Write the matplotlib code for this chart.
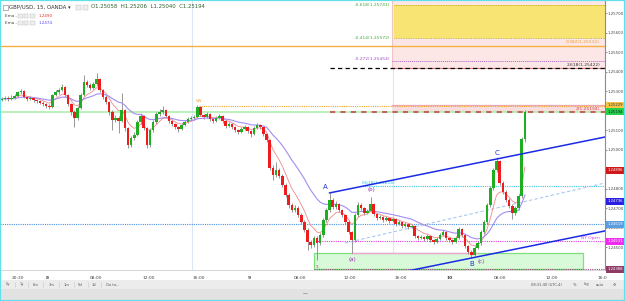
import matplotlib
matplotlib.use("Agg")
import matplotlib.pyplot as plt
from matplotlib.patches import Rectangle
import matplotlib.transforms as mtrans
import numpy as np
import pandas as pd

# ---------------- data (GBP/USD 15m, OANDA) ----------------
opens = [
    1.25256, 1.25261, 1.25266, 1.25261, 1.25266, 1.25276, 1.25297, 1.25302, 1.25271, 1.25261,
    1.25266, 1.25256, 1.25250, 1.25240, 1.25235, 1.25225, 1.25220, 1.25281, 1.25297, 1.25307,
    1.25322, 1.25281, 1.25235, 1.25194, 1.25163, 1.25215, 1.25281, 1.25348, 1.25333, 1.25317,
    1.25338, 1.25363, 1.25307, 1.25271, 1.25245, 1.25194, 1.25153, 1.25163, 1.25148, 1.25204,
    1.25112, 1.25025, 1.25061, 1.25076, 1.25143, 1.25173, 1.25112, 1.25025, 1.25102, 1.25143,
    1.25184, 1.25194, 1.25204, 1.25173, 1.25148, 1.25132, 1.25117, 1.25107, 1.25127, 1.25143,
    1.25158, 1.25163, 1.25168, 1.25220, 1.25179, 1.25168, 1.25184, 1.25158, 1.25148, 1.25163,
    1.25173, 1.25148, 1.25122, 1.25132, 1.25117, 1.25102, 1.25091, 1.25107, 1.25117, 1.25097,
    1.25081, 1.25112, 1.25127, 1.25117, 1.25081, 1.25050, 1.24907, 1.24871, 1.24896, 1.24866,
    1.24820, 1.24768, 1.24717, 1.24691, 1.24702, 1.24666, 1.24630, 1.24589, 1.24527, 1.24512,
    1.24548, 1.24522, 1.24563, 1.24640, 1.24691, 1.24743, 1.24707, 1.24722, 1.24691, 1.24666,
    1.24630, 1.24578, 1.24538, 1.24666, 1.24717, 1.24702, 1.24676, 1.24686, 1.24722, 1.24671,
    1.24650, 1.24656, 1.24640, 1.24650, 1.24635, 1.24645, 1.24619, 1.24630, 1.24609, 1.24619,
    1.24604, 1.24609, 1.24558, 1.24548, 1.24553, 1.24543, 1.24558, 1.24538, 1.24527, 1.24543,
    1.24563, 1.24578, 1.24548, 1.24538, 1.24527, 1.24548, 1.24594, 1.24563, 1.24507, 1.24476,
    1.24461, 1.24496, 1.24522, 1.24578, 1.24630, 1.24717, 1.24804, 1.24896, 1.24943, 1.24830,
    1.24784, 1.24743, 1.24712, 1.24676, 1.24702, 1.24763, 1.25058]

closes = [
    1.25261, 1.25266, 1.25261, 1.25266, 1.25276, 1.25297, 1.25302, 1.25271, 1.25261, 1.25266,
    1.25256, 1.25250, 1.25240, 1.25235, 1.25225, 1.25220, 1.25281, 1.25297, 1.25307, 1.25322,
    1.25281, 1.25235, 1.25194, 1.25163, 1.25215, 1.25281, 1.25348, 1.25333, 1.25317, 1.25338,
    1.25363, 1.25307, 1.25271, 1.25245, 1.25194, 1.25153, 1.25163, 1.25148, 1.25204, 1.25112,
    1.25025, 1.25061, 1.25076, 1.25143, 1.25173, 1.25112, 1.25025, 1.25102, 1.25143, 1.25184,
    1.25194, 1.25204, 1.25173, 1.25148, 1.25132, 1.25117, 1.25107, 1.25127, 1.25143, 1.25158,
    1.25163, 1.25168, 1.25220, 1.25179, 1.25168, 1.25184, 1.25158, 1.25148, 1.25163, 1.25173,
    1.25148, 1.25122, 1.25132, 1.25117, 1.25102, 1.25091, 1.25107, 1.25117, 1.25097, 1.25081,
    1.25112, 1.25127, 1.25117, 1.25081, 1.25050, 1.24907, 1.24871, 1.24896, 1.24866, 1.24820,
    1.24768, 1.24717, 1.24691, 1.24702, 1.24666, 1.24630, 1.24589, 1.24527, 1.24512, 1.24548,
    1.24522, 1.24563, 1.24640, 1.24691, 1.24743, 1.24707, 1.24722, 1.24691, 1.24666, 1.24630,
    1.24578, 1.24538, 1.24666, 1.24717, 1.24702, 1.24676, 1.24686, 1.24722, 1.24671, 1.24650,
    1.24656, 1.24640, 1.24650, 1.24635, 1.24645, 1.24619, 1.24630, 1.24609, 1.24619, 1.24604,
    1.24609, 1.24558, 1.24548, 1.24553, 1.24543, 1.24558, 1.24538, 1.24527, 1.24543, 1.24563,
    1.24578, 1.24548, 1.24538, 1.24527, 1.24548, 1.24594, 1.24563, 1.24507, 1.24476, 1.24461,
    1.24496, 1.24522, 1.24578, 1.24630, 1.24717, 1.24804, 1.24896, 1.24943, 1.24830, 1.24784,
    1.24743, 1.24712, 1.24676, 1.24702, 1.24763, 1.25058, 1.25194]

highs = [
    1.25271, 1.25276, 1.25276, 1.25281, 1.25286, 1.25302, 1.25312, 1.25307, 1.25276, 1.25276,
    1.25271, 1.25261, 1.25256, 1.25250, 1.25240, 1.25235, 1.25286, 1.25307, 1.25317, 1.25338,
    1.25327, 1.25286, 1.25240, 1.25204, 1.25225, 1.25292, 1.25384, 1.25358, 1.25343, 1.25348,
    1.25394, 1.25368, 1.25312, 1.25281, 1.25250, 1.25204, 1.25179, 1.25173, 1.25292, 1.25209,
    1.25117, 1.25071, 1.25091, 1.25153, 1.25189, 1.25179, 1.25117, 1.25112, 1.25153, 1.25194,
    1.25209, 1.25225, 1.25209, 1.25179, 1.25158, 1.25138, 1.25122, 1.25138, 1.25153, 1.25168,
    1.25173, 1.25179, 1.25230, 1.25225, 1.25184, 1.25194, 1.25189, 1.25163, 1.25173, 1.25184,
    1.25179, 1.25153, 1.25143, 1.25138, 1.25122, 1.25107, 1.25117, 1.25127, 1.25122, 1.25102,
    1.25122, 1.25138, 1.25132, 1.25122, 1.25086, 1.25056, 1.24922, 1.24938, 1.24907, 1.24876,
    1.24830, 1.24779, 1.24727, 1.24717, 1.24712, 1.24676, 1.24640, 1.24599, 1.24538, 1.24558,
    1.24558, 1.24573, 1.24650, 1.24702, 1.24779, 1.24753, 1.24738, 1.24727, 1.24697, 1.24671,
    1.24640, 1.24584, 1.24676, 1.24732, 1.24727, 1.24707, 1.24697, 1.24758, 1.24727, 1.24676,
    1.24666, 1.24661, 1.24661, 1.24656, 1.24656, 1.24650, 1.24640, 1.24635, 1.24630, 1.24625,
    1.24619, 1.24614, 1.24563, 1.24563, 1.24558, 1.24568, 1.24563, 1.24543, 1.24553, 1.24573,
    1.24589, 1.24584, 1.24553, 1.24543, 1.24558, 1.24604, 1.24599, 1.24568, 1.24512, 1.24486,
    1.24507, 1.24532, 1.24589, 1.24640, 1.24727, 1.24815, 1.24907, 1.24963, 1.24948, 1.24840,
    1.24794, 1.24753, 1.24722, 1.24712, 1.24773, 1.25068, 1.25206]

lows = [
    1.25250, 1.25256, 1.25250, 1.25256, 1.25261, 1.25271, 1.25286, 1.25266, 1.25250, 1.25256,
    1.25245, 1.25240, 1.25235, 1.25225, 1.25215, 1.25209, 1.25215, 1.25276, 1.25286, 1.25302,
    1.25271, 1.25225, 1.25179, 1.25117, 1.25153, 1.25209, 1.25276, 1.25322, 1.25307, 1.25312,
    1.25327, 1.25297, 1.25261, 1.25235, 1.25179, 1.25102, 1.25143, 1.25086, 1.25143, 1.25097,
    1.25009, 1.25015, 1.25050, 1.25071, 1.25132, 1.25102, 1.25009, 1.25015, 1.25091, 1.25132,
    1.25173, 1.25184, 1.25163, 1.25138, 1.25122, 1.25107, 1.25091, 1.25102, 1.25122, 1.25138,
    1.25148, 1.25153, 1.25163, 1.25173, 1.25158, 1.25163, 1.25148, 1.25138, 1.25143, 1.25158,
    1.25138, 1.25112, 1.25117, 1.25107, 1.25091, 1.25081, 1.25086, 1.25102, 1.25086, 1.25066,
    1.25076, 1.25107, 1.25107, 1.25071, 1.25040, 1.24896, 1.24845, 1.24861, 1.24856, 1.24810,
    1.24758, 1.24702, 1.24681, 1.24681, 1.24656, 1.24619, 1.24578, 1.24486, 1.24496, 1.24502,
    1.24435, 1.24512, 1.24553, 1.24630, 1.24681, 1.24697, 1.24697, 1.24681, 1.24656, 1.24619,
    1.24568, 1.24471, 1.24527, 1.24656, 1.24691, 1.24666, 1.24671, 1.24681, 1.24661, 1.24640,
    1.24645, 1.24630, 1.24635, 1.24625, 1.24630, 1.24609, 1.24614, 1.24599, 1.24604, 1.24594,
    1.24599, 1.24548, 1.24538, 1.24543, 1.24532, 1.24538, 1.24527, 1.24517, 1.24522, 1.24538,
    1.24558, 1.24538, 1.24527, 1.24517, 1.24522, 1.24543, 1.24553, 1.24496, 1.24466, 1.24445,
    1.24456, 1.24491, 1.24512, 1.24568, 1.24619, 1.24707, 1.24794, 1.24886, 1.24820, 1.24774,
    1.24732, 1.24702, 1.24645, 1.24666, 1.24691, 1.24753, 1.25040]

ema_fast_period = 7
ema_slow_period = 21

time_tick_pos = [5, 14.5, 30, 46.5, 62.5, 78.5, 94.5, 110.5, 126.5, 142, 158, 174.5, 190.5]
time_tick_labels = ["20:30", "8", "08:00", "12:00", "16:00", "9", "08:00", "12:00",
                    "16:00", "10", "08:00", "12:00", "16:0"]
day_labels = ["8", "9", "10"]

price_ticks = [1.257, 1.256, 1.255, 1.254, 1.253, 1.251, 1.250, 1.248, 1.247, 1.246, 1.245]

fib_neg618 = 1.25741
fib_neg414 = 1.25572
fib_382 = 1.25532
fib_neg272 = 1.25454
fib_2618 = 1.25422
fib_2 = 1.25194
fib_0618 = 1.24814
vw_level = 1.25229
last_price = 1.25194
support_level = 1.24619
ny_open_level = 1.24531
box_top = 1.24471
box_bottom = 1.24388

badge_prices = [1.25229, 1.25194, 1.24896, 1.24736, 1.24619, 1.24531, 1.24388]
badge_colors = ["#f6c444", "#22d04a", "#d01818", "#2a1fe0", "#5b9de0", "#ee2cee", "#8e3a66"]
badge_text_colors = ["#333333", "#1a1a1a", "white", "white", "white", "white", "white"]

wave_names = ["A", "(a)", "(b)", "B", "(c)", "C"]

# ---------------- layout helpers (pixel -> data) ----------------
W, H = 625, 301
PX_PER_BAR = 3.15
PX_PER_UNIT = 19500.0


def bx(px):
    return (px - 2) / PX_PER_BAR


def py(px):
    return 1.25194 - (px - 112) / PX_PER_UNIT


fig = plt.figure(figsize=(W / 100, H / 100), dpi=100)
fig.patch.set_facecolor("white")
ax = fig.add_axes([0, 31 / H, 605 / W, 270 / H])
ax.set_facecolor("white")
ax.set_xlim(bx(0), bx(605))
ax.set_ylim(py(270), py(0))

x_right = bx(605)

# vertical session lines
for vx in (192, 393):
    ax.axvline(bx(vx), color="#d9e6f6", lw=0.8, zorder=1)

# fib zones
ax.add_patch(Rectangle((bx(392), fib_2618), x_right - bx(392), py(0) - fib_2618,
                       facecolor="#fce6e6", edgecolor="none", zorder=1))
ax.add_patch(Rectangle((bx(394), fib_neg414), x_right - bx(394), fib_neg618 - fib_neg414,
                       facecolor="#f8e472", edgecolor="none", zorder=1.2))
ax.plot([bx(392), bx(392)], [fib_2618, py(0)], color="#f2c4c4", lw=0.8, zorder=1.3)
for lv in (fib_neg618, fib_neg414):
    ax.plot([bx(394), x_right], [lv, lv], color="#b9a800", lw=0.6, ls=(0, (1, 1)), zorder=1.5)
ax.axhline(fib_382, color="#f5b041", lw=1.0, zorder=1.5)
ax.plot([bx(392), x_right], [fib_neg272, fib_neg272], color="#b060d0", lw=0.7,
        ls=(0, (1, 1)), zorder=1.5)
ax.plot([bx(392), x_right], [fib_2618, fib_2618], color="#e47a7a", lw=0.8, zorder=1.5)
ax.plot([bx(330), x_right], [fib_2618, fib_2618], color="black", lw=0.9,
        ls=(0, (3.5, 2.5)), zorder=1.6)

# lower fib zone
ax.add_patch(Rectangle((bx(392), fib_2), x_right - bx(392), vw_level - fib_2,
                       facecolor="#f9dede", edgecolor="none", zorder=1))
ax.plot([bx(392), x_right], [vw_level, vw_level], color="#eeaaaa", lw=0.9, zorder=1.5)
ax.plot([bx(199), x_right], [vw_level - 0.00002, vw_level - 0.00002], color="#f0a428",
        lw=0.8, ls=(0, (1, 1)), zorder=1.6)
ax.axhline(last_price, color="#a8eea8", lw=1.1, zorder=1.4)
ax.plot([bx(330), x_right], [fib_2, fib_2], color="#c0504d", lw=1.5,
        ls=(0, (2.5, 2.5)), zorder=1.6, alpha=0.85)

# other horizontal levels
ax.plot([bx(360), x_right], [fib_0618, fib_0618], color="#3cc8e0", lw=0.8,
        ls=(0, (1, 1)), zorder=1.5)
ax.axhline(support_level, color="#4a8fe0", lw=0.8, ls=(0, (1, 1)), zorder=1.5)
ax.plot([bx(313), x_right], [ny_open_level, ny_open_level], color="#e33ae3", lw=0.8,
        ls=(0, (1, 1)), zorder=1.5)

# green box
ax.add_patch(Rectangle((bx(314), box_bottom), bx(583) - bx(314), box_top - box_bottom,
                       facecolor="#d9fad9", edgecolor="#80e080", lw=0.9, zorder=1.2))
ax.plot([bx(352), bx(477)], [box_top, box_top], color="#f3a6d8", lw=1.0, zorder=1.3)
ax.plot([bx(314), x_right], [box_bottom, box_bottom], color="#9a4a7a", lw=0.8,
        ls=(0, (1, 1)), zorder=1.4)

# ---------------- candles ----------------
o = np.array(opens)
c = np.array(closes)
h = np.array(highs)
l = np.array(lows)
idx = np.arange(len(c))
up = c >= o
col = np.where(up, "#1fae22", "#ee1c1c")
ax.vlines(idx, l, h, color="#7a7a7a", lw=0.55, zorder=3)
body_lo = np.minimum(o, c)
body_h = np.maximum(np.abs(c - o), 0.00002)
ax.bar(idx, body_h, bottom=body_lo, width=0.8, color=col, edgecolor="none", zorder=4)

# EMAs
cs = pd.Series(closes)
ema_fast = cs.ewm(span=ema_fast_period, adjust=False).mean()
ema_slow = cs.ewm(span=ema_slow_period, adjust=False).mean()
ax.plot(idx, ema_fast, color="#f08a8a", lw=0.6, zorder=3.5)
ax.plot(idx, ema_slow, color="#a58cf2", lw=0.8, zorder=3.5)

# channel (ABC)
slope = 0.203 * PX_PER_BAR / PX_PER_UNIT
a_i, b_i = 104, 149
xs_up = np.array([a_i, x_right])
ax.plot(xs_up, highs[a_i] + slope * (xs_up - a_i), color="#1a2ae6", lw=1.1, zorder=5)
xs_lo = np.array([bx(380), x_right])
ax.plot(xs_lo, lows[b_i] + slope * (xs_lo - b_i), color="#1a2ae6", lw=1.1, zorder=5)
# faint diagonal dashed
ax.plot([bx(345), x_right], [py(243), py(183)], color="#a9c8f2", lw=0.8,
        ls=(0, (3, 2)), zorder=2)

# wave labels
wave_pos = [(325, 187), (352, 260), (371, 190), (472, 264), (481, 262), (497, 153)]
for name, (px_, py_) in zip(wave_names, wave_pos):
    is_main = name in ("A", "B", "C")
    ax.text(bx(px_), py(py_), name, color="#2430d8" if is_main else "#9a28b0",
            fontsize=5 if is_main else 4, ha="center", va="center", zorder=6)

# fib / level labels
ax.text(bx(390), py(4.5), "-0.618(1.25741)", color="#43a843", fontsize=3.2, ha="right", va="center")
ax.text(bx(390), py(38), "-0.414(1.25572)", color="#43a843", fontsize=3.2, ha="right", va="center")
ax.text(bx(600), py(42.5), "0.382(1.25532)", color="#f0a030", fontsize=3.2, ha="right", va="center")
ax.text(bx(390), py(59), "-0.272(1.25454)", color="#a050c8", fontsize=3.2, ha="right", va="center")
ax.text(bx(600), py(64.5), "2.618(1.25422)", color="#333333", fontsize=3.2, ha="right", va="center")
ax.text(bx(600), py(108.5), "2(1.25194)", color="#d04848", fontsize=3.2, ha="right", va="center")
ax.text(bx(362), py(183), "0.618(1.24814)", color="#2ec0dc", fontsize=3.2, ha="left", va="center")
ax.text(bx(600), py(238.5), "NY Open", color="#e33ae3", fontsize=3.2, ha="right", va="center")
ax.text(bx(196), py(101), "VW", color="#f0a030", fontsize=2.8, ha="left", va="center")
ax.text(bx(315), py(266.5), "TL", color="#c040a0", fontsize=2.6, ha="left", va="center")

# ---------------- axes styling ----------------
for s in ("top", "left"):
    ax.spines[s].set_visible(False)
ax.spines["right"].set_color("#8c8c8c")
ax.spines["right"].set_linewidth(0.8)
ax.spines["bottom"].set_color("#d0d0d0")
ax.spines["bottom"].set_linewidth(0.6)

ax.yaxis.tick_right()
ax.set_yticks(price_ticks)
ax.set_yticklabels([f"{v:.5f}" for v in price_ticks])
ax.tick_params(axis="y", labelsize=2.8, length=1.5, width=0.5, pad=0.6,
               color="#666666", labelcolor="#444444")
ax.set_xticks(time_tick_pos)
ax.set_xticklabels(time_tick_labels)
ax.tick_params(axis="x", labelsize=3.2, length=0, pad=4.5, labelcolor="#444444")
for t in ax.get_xticklabels():
    if t.get_text() in day_labels:
        t.set_fontweight("bold")

# price badges
blend = mtrans.blended_transform_factory(ax.transAxes, ax.transData)
bh = 7 / PX_PER_UNIT
for p, bc, tc in zip(badge_prices, badge_colors, badge_text_colors):
    ax.add_patch(Rectangle((1.0015, p - bh / 2), 0.031, bh, transform=blend,
                           facecolor=bc, edgecolor="none", clip_on=False, zorder=10))
    ax.text(1.0163, p, f"{p:.5f}", transform=blend, fontsize=2.7, color=tc,
            ha="center", va="center", clip_on=False, zorder=11)

# ---------------- header ----------------
def ft(x, y, s, **kw):
    fig.text(x / W, 1 - y / H, s, va="center", **kw)

fig.add_artist(Rectangle((2.5 / W, 1 - 9.5 / H), 5 / W, 5 / H, transform=fig.transFigure,
                         facecolor="white", edgecolor="#777777", lw=0.4))
ft(9, 7, "GBP/USD, 15, OANDA \u25be", fontsize=3.9, color="#333333")
for bxp in (76, 83):
    fig.add_artist(Rectangle((bxp / W, 1 - 9.5 / H), 5 / W, 5 / H, transform=fig.transFigure,
                             facecolor="#eeeeee", edgecolor="#bbbbbb", lw=0.3))
ft(91, 7, "O1.25058  H1.25206  L1.25040  C1.25194", fontsize=3.9, color="#2f5f2f")
for yy, val, vc in ((16, "1.2490", "#e03030"), (23, "1.2474", "#5a45f0")):
    ft(5, yy, "Ema -", fontsize=3, color="#444444")
    for k in range(3):
        fig.add_artist(Rectangle(((18 + k * 6) / W, 1 - (yy + 2) / H), 4.5 / W, 4 / H,
                                 transform=fig.transFigure, facecolor="#eeeeee",
                                 edgecolor="#bbbbbb", lw=0.3))
    ft(39, yy, val, fontsize=3, color=vc)

# ---------------- bottom toolbar ----------------
fig.add_artist(Rectangle((0, 1 - 289 / H), 1, 9 / H, transform=fig.transFigure,
                         facecolor="#ececec", edgecolor="none"))
fig.add_artist(Rectangle((0, 0), 1, 12 / H, transform=fig.transFigure,
                         facecolor="#e2e2e2", edgecolor="none"))
tb = [("5y", 6), ("1y", 20), ("6m", 33), ("3m", 49), ("1m", 64), ("5d", 78), ("1d", 92), ("Go to...", 106)]
for s, xx in tb:
    ft(xx, 284.5, s, fontsize=2.6, color="#555555")
for xx in (15, 28, 43, 59, 74, 88, 101):
    fig.add_artist(plt.Line2D([xx / W, xx / W], [1 - 282 / H, 1 - 287 / H],
                              transform=fig.transFigure, color="#c8c8c8", lw=0.4))
for s, xx in (("08:31:40 (UTC-4)", 531), ("%", 573), ("log", 584), ("auto", 596), ("\u2699", 613)):
    ft(xx, 284.5, s, fontsize=2.6, color="#555555")
ft(303, 294, "\u2014", fontsize=3.5, color="#444444")

# cyan frame
fig.add_artist(Rectangle((0, 0), 1, 1, transform=fig.transFigure, facecolor="none",
                         edgecolor="#5fe0ea", lw=1.6))

fig.savefig("out.png", dpi=100, facecolor="white")
